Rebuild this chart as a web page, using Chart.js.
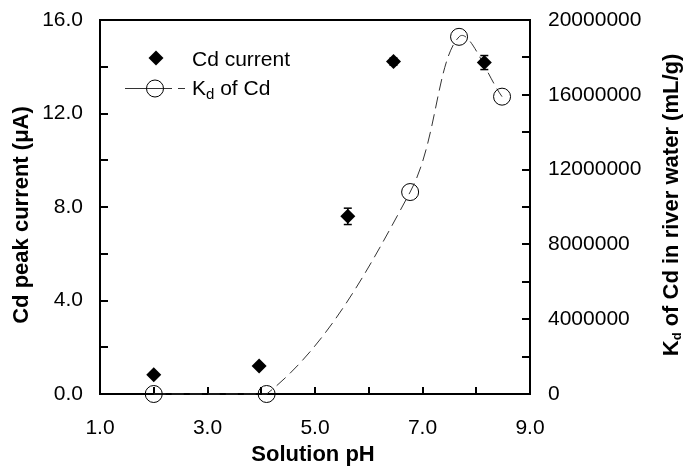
<!DOCTYPE html>
<html>
<head>
<meta charset="utf-8">
<script src="https://cdn.jsdelivr.net/npm/chart.js@4.4.1/dist/chart.umd.min.js"></script>
<style>
  html, body { margin: 0; padding: 0; background: #fff; }
  #wrap { width: 684px; height: 468px; }
</style>
</head>
<body>
<div id="wrap"><canvas id="chart" width="684" height="468"></canvas></div>
<script>
// Cd peak current (uA) against solution pH
const phCurrent = [2.0, 3.96, 5.61, 6.46, 8.15];
const cdCurrent = [0.82, 1.2, 7.6, 14.22, 14.18];
const cdCurrentErr = [0.1, 0.1, 0.35, 0.15, 0.3];

// Kd of Cd in river water (mL/g) against solution pH
const phKd = [2.0, 4.1, 6.77, 7.68, 8.48];
const kdValues = [0, 0, 10800000, 19100000, 15900000];

const FONT = '"Liberation Sans", Arial, sans-serif';

// draws the box, inward ticks, error bars, axis titles and legend
const decorPlugin = {
    id: 'decor',
    beforeDatasetsDraw(chart) {
        const { ctx, chartArea: a, scales } = chart;
        ctx.save();
        ctx.strokeStyle = '#000';
        ctx.lineWidth = 2;
        ctx.strokeRect(a.left, a.top, a.right - a.left, a.bottom - a.top);

        const line = (x1, y1, x2, y2) => {
            ctx.beginPath();
            ctx.moveTo(x1, y1);
            ctx.lineTo(x2, y2);
            ctx.stroke();
        };
        scales.x.ticks.forEach(t => {
            const px = Math.round(scales.x.getPixelForValue(t.value));
            line(px, a.bottom, px, a.bottom - 7);
        });
        scales.y.ticks.forEach(t => {
            const py = Math.round(scales.y.getPixelForValue(t.value));
            line(a.left, py, a.left + 8, py);
        });
        scales.y2.ticks.forEach(t => {
            const py = Math.round(scales.y2.getPixelForValue(t.value));
            line(a.right, py, a.right - 8, py);
        });

        // error bars for the Cd current
        ctx.lineWidth = 1.5;
        phCurrent.forEach((ph, i) => {
            const px = scales.x.getPixelForValue(ph);
            const top = scales.y.getPixelForValue(cdCurrent[i] + cdCurrentErr[i]);
            const bot = scales.y.getPixelForValue(cdCurrent[i] - cdCurrentErr[i]);
            line(px, top, px, bot);
            line(px - 4, top, px + 4, top);
            line(px - 4, bot, px + 4, bot);
        });
        ctx.restore();
    },
    afterDraw(chart) {
        const { ctx } = chart;
        ctx.save();
        ctx.fillStyle = '#000';

        // x title
        ctx.font = 'bold 22px ' + FONT;
        ctx.textAlign = 'center';
        ctx.textBaseline = 'middle';
        ctx.fillText('Solution pH', 313, 455);

        // left title
        ctx.save();
        ctx.translate(22, 215);
        ctx.rotate(-Math.PI / 2);
        ctx.fillText('Cd peak current (\u03bcA)', 0, 0);
        ctx.restore();

        // right title with subscript
        ctx.save();
        ctx.translate(672, 205);
        ctx.rotate(-Math.PI / 2);
        ctx.textAlign = 'left';
        const bigFont = 'bold 22px ' + FONT;
        const subFont = 'bold 13px ' + FONT;
        ctx.font = bigFont;
        const wK = ctx.measureText('K').width;
        const rest = ' of Cd in river water (mL/g)';
        const wRest = ctx.measureText(rest).width;
        ctx.font = subFont;
        const wD = ctx.measureText('d').width;
        let x0 = -(wK + wD + wRest) / 2;
        ctx.font = bigFont;
        ctx.fillText('K', x0, 0);
        ctx.font = subFont;
        ctx.fillText('d', x0 + wK, 5);
        ctx.font = bigFont;
        ctx.fillText(rest, x0 + wK + wD, 0);
        ctx.restore();

        // legend
        ctx.textAlign = 'left';
        ctx.textBaseline = 'alphabetic';
        ctx.beginPath();
        ctx.moveTo(156 - 7.5, 58);
        ctx.lineTo(156, 58 - 7.5);
        ctx.lineTo(156 + 7.5, 58);
        ctx.lineTo(156, 58 + 7.5);
        ctx.closePath();
        ctx.fill();
        ctx.font = '21px ' + FONT;
        ctx.fillText('Cd current', 192, 66);

        ctx.strokeStyle = '#333';
        ctx.lineWidth = 1;
        ctx.beginPath();
        ctx.moveTo(125, 88.5); ctx.lineTo(172, 88.5);
        ctx.moveTo(178, 88.5); ctx.lineTo(185, 88.5);
        ctx.stroke();
        ctx.strokeStyle = '#000';
        ctx.beginPath();
        ctx.arc(155, 88.5, 8.5, 0, Math.PI * 2);
        ctx.stroke();
        ctx.font = '21px ' + FONT;
        ctx.fillText('K', 192, 95);
        const kw = ctx.measureText('K').width;
        ctx.font = '15px ' + FONT;
        ctx.fillText('d', 192 + kw, 99);
        const dw = ctx.measureText('d').width;
        ctx.font = '21px ' + FONT;
        ctx.fillText(' of Cd', 192 + kw + dw, 95);
        ctx.restore();
    }
};

// fixed box sizes so the plot area sits where the original has it
function fixWidth(w) {
    return s => {
        s.width = w;
        s.paddingTop = 0;
        s.paddingBottom = 0;
    };
}

new Chart(document.getElementById('chart'), {
    type: 'scatter',
    data: {
        datasets: [
            {
                label: 'Cd current',
                data: phCurrent.map((x, i) => ({ x: x, y: cdCurrent[i] })),
                yAxisID: 'y',
                showLine: false,
                pointStyle: 'rectRot',
                pointRadius: 7.5,
                pointBackgroundColor: '#000',
                pointBorderColor: '#000',
                pointBorderWidth: 0,
                clip: false
            },
            {
                label: 'Kd of Cd',
                data: phKd.map((x, i) => ({ x: x, y: kdValues[i] })),
                yAxisID: 'y2',
                showLine: true,
                borderColor: '#333',
                borderWidth: 1,
                borderDash: [12, 6],
                tension: 0.35,
                pointStyle: 'circle',
                pointRadius: 8.5,
                pointBorderColor: '#000',
                pointBorderWidth: 1,
                pointBackgroundColor: 'rgba(0,0,0,0)',
                clip: false
            }
        ]
    },
    options: {
        responsive: false,
        animation: false,
        events: [],
        layout: { padding: { top: 20, left: 0, right: 0, bottom: 0 } },
        plugins: {
            legend: { display: false },
            tooltip: { enabled: false }
        },
        scales: {
            x: {
                type: 'linear',
                position: 'bottom',
                min: 1, max: 9,
                grid: { display: false, drawTicks: false },
                border: { display: false },
                ticks: {
                    stepSize: 1,
                    autoSkip: false,
                    maxRotation: 0,
                    padding: 22,
                    color: '#000',
                    font: { family: FONT, size: 21 },
                    callback: v => (v % 2 === 1 ? v.toFixed(1) : '')
                },
                afterFit: s => {
                    s.height = 74;
                    s.paddingLeft = 0;
                    s.paddingRight = 0;
                }
            },
            y: {
                position: 'left',
                min: 0, max: 16,
                grid: { display: false, drawTicks: false },
                border: { display: false },
                ticks: {
                    stepSize: 2,
                    autoSkip: false,
                    padding: 17,
                    color: '#000',
                    font: { family: FONT, size: 21 },
                    callback: v => (v % 4 === 0 ? v.toFixed(1) : '')
                },
                afterFit: fixWidth(100)
            },
            y2: {
                position: 'right',
                min: 0, max: 20000000,
                grid: { display: false, drawTicks: false },
                border: { display: false },
                ticks: {
                    stepSize: 2000000,
                    autoSkip: false,
                    padding: 18,
                    color: '#000',
                    font: { family: FONT, size: 21 },
                    callback: v => (v % 4000000 === 0 ? String(v) : '')
                },
                afterFit: fixWidth(154)
            }
        }
    },
    plugins: [decorPlugin]
});
</script>
</body>
</html>
